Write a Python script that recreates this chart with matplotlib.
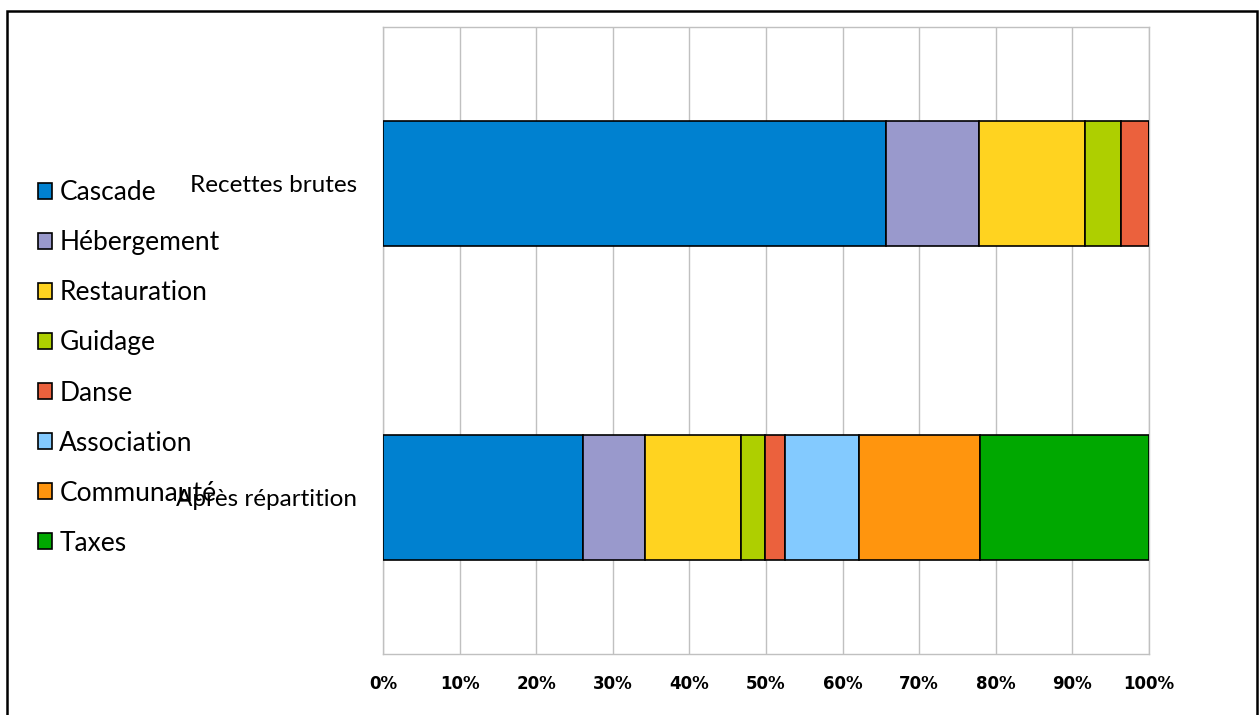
import matplotlib.pyplot as plt
import matplotlib.patches as mpatches
import numpy as np

# Data (percent shares)
categories = ["Après répartition", "Recettes brutes"]
series = ["Cascade", "Hébergement", "Restauration", "Guidage", "Danse",
          "Association", "Communauté", "Taxes"]
cascade = [26.1, 65.7]
hebergement = [8.1, 12.1]
restauration = [12.5, 13.8]
guidage = [3.2, 4.7]
danse = [2.6, 3.7]
association = [9.6, 0.0]
communaute = [15.8, 0.0]
taxes = [22.1, 0.0]
colors = ["#0081D0", "#9999CC", "#FFD320", "#AECF00", "#EB613D",
          "#83CAFF", "#FF950E", "#00A800"]
xticks = [0, 10, 20, 30, 40, 50, 60, 70, 80, 90, 100]

values = [cascade, hebergement, restauration, guidage, danse,
          association, communaute, taxes]

fig = plt.figure(figsize=(12.59, 7.15), dpi=100)
ax = fig.add_axes([0.3042, 0.0853, 0.6084, 0.8769])

y = np.arange(len(categories))
left = np.zeros(len(categories))
for name, vals, col in zip(series, values, colors):
    vals = np.array(vals)
    ax.barh(y, vals, left=left, height=0.4, color=col, edgecolor="black",
            linewidth=1.2, label=name, zorder=3)
    left += vals

ax.set_xlim(0, 100)
ax.set_ylim(-0.5, 1.5)
ax.set_xticks(xticks)
ax.set_xticklabels([f"{t}%" for t in xticks],
                   family=["Liberation Sans Narrow", "DejaVu Sans Condensed", "DejaVu Sans"],
                   fontweight="bold", fontsize=12)
ax.set_yticks(y)
ax.set_yticklabels(categories, family=["Lato", "DejaVu Sans"], fontsize=17.5)
ax.tick_params(axis="both", length=0)
ax.tick_params(axis="x", pad=15)
ax.tick_params(axis="y", pad=18.5)
ax.grid(axis="x", color="#C0C0C0", linewidth=1, zorder=0)
for s in ax.spines.values():
    s.set_color("#C0C0C0")
    s.set_linewidth(1)

fig.legend(loc="center left", bbox_to_anchor=(0.030, 0.4853), frameon=False,
           prop={"family": ["Lato", "DejaVu Sans"], "size": 19},
           handlelength=0.55, handleheight=0.55, handletextpad=0.27,
           labelspacing=0.95, borderpad=0, borderaxespad=0)

# outer frame
frame = mpatches.Rectangle((0.0056, -0.02), 0.9928, 1.0046, transform=fig.transFigure,
                           fill=False, edgecolor="black", linewidth=1.8, clip_on=False)
fig.patches.append(frame)

plt.savefig("out.png", dpi=100)
